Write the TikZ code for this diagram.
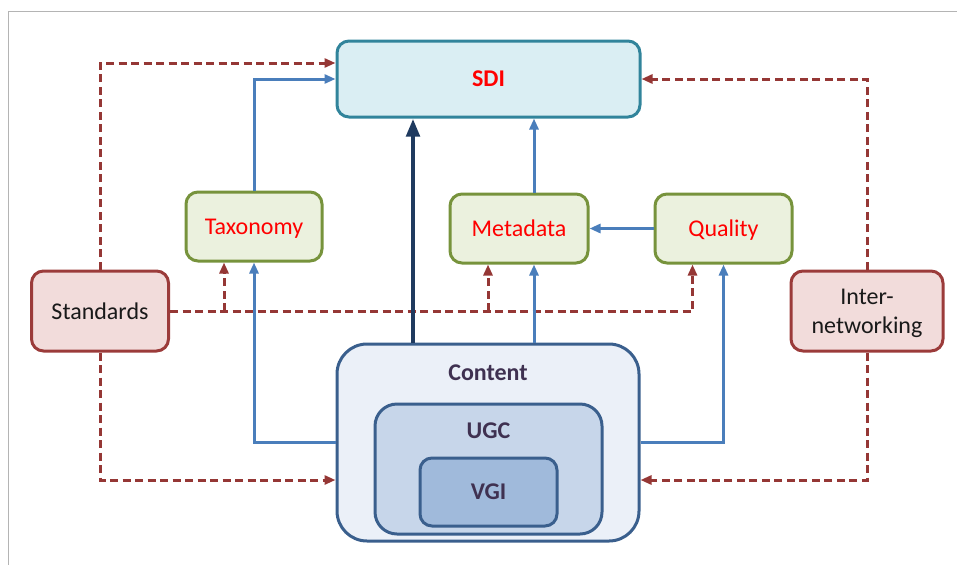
\documentclass[tikz,border=0pt]{standalone}
\usepackage{fontspec}
\setmainfont{Carlito}
\usetikzlibrary{arrows.meta,calc}
\definecolor{sdiFill}{HTML}{DAEEF3}
\definecolor{sdiDraw}{HTML}{31849B}
\definecolor{grFill}{HTML}{EBF1DE}
\definecolor{grDraw}{HTML}{77933C}
\definecolor{rdFill}{HTML}{F2DCDB}
\definecolor{rdDraw}{HTML}{9B3B3A}
\definecolor{dashCol}{HTML}{953735}
\definecolor{blueArr}{HTML}{4A7EBB}
\definecolor{navy}{HTML}{1F3A5F}
\definecolor{cFill}{HTML}{EBF0F8}
\definecolor{uFill}{HTML}{C7D6EA}
\definecolor{vFill}{HTML}{A0BADB}
\definecolor{cDraw}{HTML}{3A5F8D}
\definecolor{cText}{HTML}{3F3151}
\definecolor{frameCol}{HTML}{B4B4B4}
\tikzset{
  box/.style={rectangle, rounded corners=12pt, line width=3pt, inner sep=0pt, align=center,
    text depth=0pt, font=\fontsize{24}{29}\selectfont},
  sdibox/.style={box, fill=sdiFill, draw=sdiDraw, text=red, font=\fontsize{24}{29}\selectfont\bfseries},
  grbox/.style={box, fill=grFill, draw=grDraw, text=red},
  rdbox/.style={box, fill=rdFill, draw=rdDraw, text=black!90},
  cbox/.style={rectangle, line width=3pt, draw=cDraw, inner sep=0pt},
  clabel/.style={text=cText, font=\fontsize{24}{29}\selectfont\bfseries, inner sep=0pt, text depth=0pt},
  blueline/.style={draw=blueArr, line width=3pt, -{Triangle[length=11pt,width=9pt]}},
  navyline/.style={draw=navy, line width=4.5pt, -{Triangle[length=18pt,width=13pt]}},
  dashline/.style={draw=dashCol, line width=3pt, dash pattern=on 8pt off 4.5pt, -{Triangle[length=11pt,width=9pt]}},
}
\begin{document}
\begin{tikzpicture}[x=1pt,y=-1pt]
\useasboundingbox (0,0) rectangle (957,565);
\draw[frameCol, line width=1pt] (957,11.5) -- (8.5,11.5) -- (8.5,565);

% nodes
\node[sdibox, minimum width=303pt, minimum height=76pt] (sdi) at (488.5,79) {SDI};
\node[grbox, minimum width=136pt, minimum height=69pt] (tax) at (254,226.5) {Taxonomy};
\node[grbox, minimum width=138pt, minimum height=69pt] (meta) at (519,228.5) {Metadata};
\node[grbox, minimum width=137pt, minimum height=69pt] (qual) at (723.5,228.5) {Quality};
\node[rdbox, minimum width=137pt, minimum height=80pt] (std) at (100,311) {Standards};
\node[rdbox, minimum width=152pt, minimum height=80pt] (inter) at (867,311) {Inter-\\networking};

\node[cbox, rounded corners=30pt, fill=cFill, minimum width=302pt, minimum height=197pt] (content) at (488,442.5) {};
\node[clabel] (contentlbl) at (488,373) {Content};
\node[cbox, rounded corners=22pt, fill=uFill, minimum width=227pt, minimum height=130pt] (ugc) at (488.5,469) {};
\node[clabel] (ugclbl) at (488.5,431) {UGC};
\node[cbox, rounded corners=12pt, fill=vFill, minimum width=137pt, minimum height=68pt] (vgi) at (488.5,492) {};
\node[clabel] (vgilbl) at (488.5,492) {VGI};

% helper coordinates
\coordinate (sdiA) at ($(sdi.west)+(0,-16)$);
\coordinate (cTop1) at ($(content.north)+(-75,0)$);
\coordinate (sdiB) at (cTop1 |- sdi.south);
\coordinate (metaTop) at ($(meta.north)+(15,0)$);
\coordinate (metaBot) at ($(meta.south)+(15,0)$);
\coordinate (cTop2) at (metaBot |- content.north);
\coordinate (sdiC) at (metaTop |- sdi.south);
\coordinate (qualBd) at ($(qual.south)+(-31,0)$);
\coordinate (taxBd) at ($(tax.south)+(-30,0)$);
\coordinate (metaBd) at ($(meta.south)+(-31,0)$);
\coordinate (taxBr) at (taxBd |- std.east);
\coordinate (metaBr) at (metaBd |- std.east);
\coordinate (cWl) at ($(content.west)+(0,37.5)$);
\coordinate (cEl) at ($(content.east)+(0,37.5)$);

% red dashed connectors
\draw[dashline] (std.north) |- (sdiA);
\draw[dashline] (inter.north) |- (sdi.east);
\draw[dashline] (std.east) -| (qualBd);
\draw[dashline] (taxBr) -- (taxBd);
\draw[dashline] (metaBr) -- (metaBd);
\draw[dashline] (std.south) |- (cWl);
\draw[dashline] (inter.south) |- (cEl);

% blue connectors
\draw[blueline] (tax.north) |- (sdi.west);
\draw[blueline] (metaTop) -- (sdiC);
\draw[blueline] (qual.west) -- (meta.east);
\draw[blueline] (content.west) -| (tax.south);
\draw[blueline] (content.east) -| (qual.south);
\draw[blueline] (cTop2) -- (metaBot);

% navy thick
\draw[navyline] (cTop1) -- (sdiB);
\end{tikzpicture}
\end{document}
